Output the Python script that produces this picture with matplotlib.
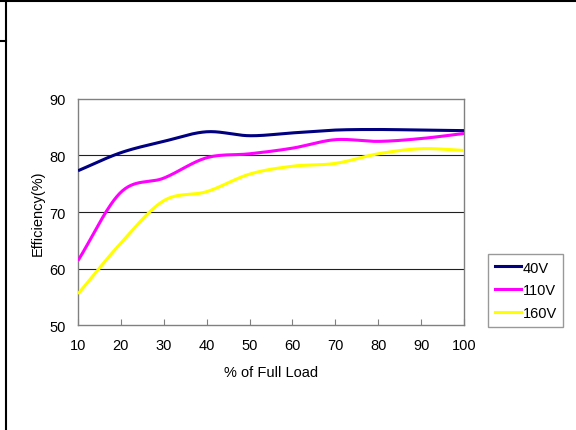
import numpy as np
import matplotlib.pyplot as plt
from matplotlib.lines import Line2D

plt.rcParams['font.family'] = ['Liberation Sans', 'DejaVu Sans']

load = [10, 20, 30, 40, 50, 60, 70, 80, 90, 100]
eff_40v = [77.3, 80.5, 82.5, 84.2, 83.5, 84.0, 84.5, 84.6, 84.5, 84.4]
eff_110v = [61.4, 73.5, 76.0, 79.6, 80.3, 81.3, 82.8, 82.5, 83.0, 83.9]
eff_160v = [55.5, 64.5, 72.0, 73.6, 76.7, 78.1, 78.6, 80.3, 81.2, 80.9]
labels = ['40V', '110V', '160V']
colors = ['#000080', '#ff00ff', '#ffff00']


def smooth(x, y, n=30):
    # excel-like smoothed line (catmull-rom through the points)
    x = np.asarray(x, float)
    y = np.asarray(y, float)
    px = np.concatenate([[2 * x[0] - x[1]], x, [2 * x[-1] - x[-2]]])
    py = np.concatenate([[2 * y[0] - y[1]], y, [2 * y[-1] - y[-2]]])
    xs, ys = [], []
    t = np.linspace(0, 1, n, endpoint=False)
    for i in range(1, len(px) - 2):
        for p, out in ((px, xs), (py, ys)):
            p0, p1, p2, p3 = p[i - 1], p[i], p[i + 1], p[i + 2]
            out.append(0.5 * (2 * p1 + (-p0 + p2) * t
                              + (2 * p0 - 5 * p1 + 4 * p2 - p3) * t ** 2
                              + (-p0 + 3 * p1 - 3 * p2 + p3) * t ** 3))
    xs.append([x[-1]])
    ys.append([y[-1]])
    return np.concatenate(xs), np.concatenate(ys)


fig = plt.figure(figsize=(5.76, 4.31), dpi=100)
ax = fig.add_axes([0.1354, 0.2436, 0.6701, 0.5244])

for data, col in zip([eff_40v, eff_110v, eff_160v], colors):
    sx, sy = smooth(load, data)
    ax.plot(sx, sy, color=col, lw=2.2, solid_capstyle='butt', zorder=3)

fs = 10.5
ax.set_xlim(10, 100)
ax.set_ylim(50, 90)
ax.set_xticks(load)
ax.set_yticks([50, 60, 70, 80, 90])
for v in [60, 70, 80]:
    ax.axhline(v, color='#202020', lw=0.8, zorder=1)
for s in ax.spines.values():
    s.set_color('#808080')
    s.set_linewidth(1)
ax.tick_params(axis='x', direction='in', length=4, color='#808080', labelsize=fs, pad=9)
ax.tick_params(axis='y', length=0, labelsize=fs, pad=9)
ax.set_xlabel('% of Full Load', fontsize=fs, labelpad=10)
ax.set_ylabel('Efficiency(%)', fontsize=fs, labelpad=3)

handles = [Line2D([], [], color=c, lw=2.2) for c in colors]
leg = fig.legend(handles, labels, loc='upper left', bbox_to_anchor=(488 / 576, 1 - 255 / 431),
                 frameon=True, fancybox=False, fontsize=fs, handlelength=1.8,
                 handletextpad=0.12, labelspacing=0.6, borderpad=0.45, borderaxespad=0)
leg.get_frame().set_edgecolor('#808080')
leg.get_frame().set_linewidth(1)

# outer frame pieces
fig.add_artist(Line2D([0, 1], [1 - 2 / 431] * 2, transform=fig.transFigure, color='black', lw=1.5))
fig.add_artist(Line2D([6 / 576] * 2, [0, 1 - 2 / 431], transform=fig.transFigure, color='black', lw=1.5))
fig.add_artist(Line2D([0, 6 / 576], [1 - 42 / 431] * 2, transform=fig.transFigure, color='black', lw=1.5))

fig.savefig('out.png', dpi=100)
